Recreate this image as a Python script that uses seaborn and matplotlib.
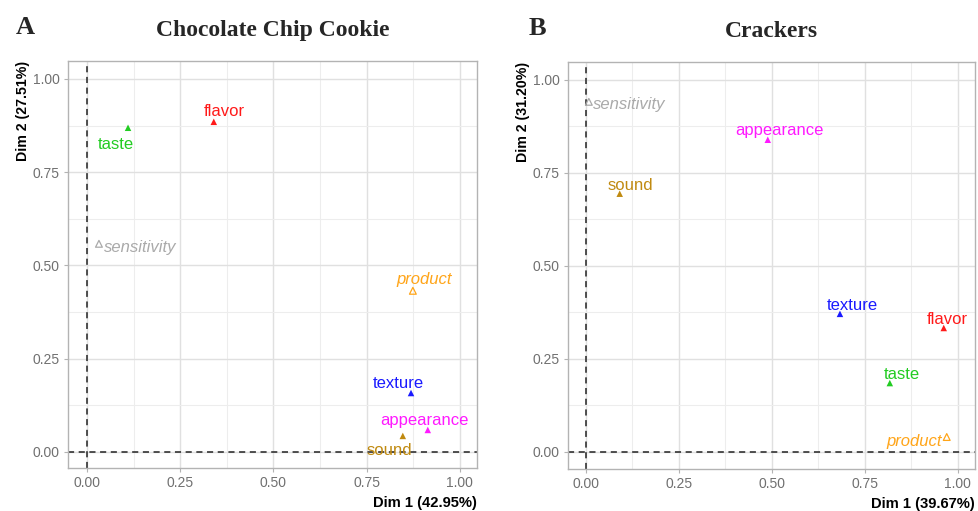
import matplotlib
matplotlib.use('Agg')
import matplotlib.pyplot as plt
from matplotlib.ticker import MultipleLocator
import seaborn as sns
import pandas as pd

sns.set_theme(style='white')
plt.rcParams['font.family'] = ['Liberation Sans', 'DejaVu Sans']

# variable names and colours
variables = ['taste', 'flavor', 'sensitivity', 'product', 'texture',
             'appearance', 'sound']
supplementary = ['sensitivity', 'product']
colors = {'taste': '#22CC22', 'flavor': '#FF1A1A', 'sensitivity': '#AAAAAA',
          'product': '#FFA519', 'texture': '#1A1AFF',
          'appearance': '#FF1AFF', 'sound': '#C08A10'}

# chocolate chip cookie coordinates
cookie_dim1 = [0.110, 0.340, 0.032, 0.874, 0.869, 0.914, 0.847]
cookie_dim2 = [0.869, 0.885, 0.558, 0.432, 0.158, 0.059, 0.043]

# crackers coordinates
cracker_dim1 = [0.817, 0.962, 0.008, 0.970, 0.683, 0.489, 0.091]
cracker_dim2 = [0.185, 0.333, 0.941, 0.040, 0.371, 0.839, 0.694]

cookie_axis = ['Dim 1 (42.95%)', 'Dim 2 (27.51%)']
cracker_axis = ['Dim 1 (39.67%)', 'Dim 2 (31.20%)']

# label offsets in pixels (dx, dy) and alignment
cookie_offsets = {'taste': (-12, -17, 'center'), 'flavor': (11, 10, 'center'),
                  'sensitivity': (5, -4, 'left'), 'product': (11, 11, 'center'),
                  'texture': (-13, 10, 'center'),
                  'appearance': (-3, 9, 'center'), 'sound': (-13, -15, 'center')}
cracker_offsets = {'taste': (12, 9, 'center'), 'flavor': (4, 9, 'center'),
                   'sensitivity': (4, -3, 'left'),
                   'product': (-5, -4, 'right'), 'texture': (12, 8, 'center'),
                   'appearance': (12, 9, 'center'), 'sound': (11, 8, 'center')}


def draw_panel(ax, dim1, dim2, axis_names, offsets, title, letter, letter_x,
               xlim, ylim):
    """ Draw one variable factor map panel.
    """
    df = pd.DataFrame({'var': variables, 'dim1': dim1, 'dim2': dim2})
    df['supp'] = df['var'].isin(supplementary)
    active = df[~df['supp']]
    supp = df[df['supp']]

    ax.set_xlim(*xlim)
    ax.set_ylim(*ylim)
    ax.xaxis.set_minor_locator(MultipleLocator(0.125))
    ax.yaxis.set_minor_locator(MultipleLocator(0.125))
    ax.grid(True, which='major', color='#E0E0E0', lw=1.0, zorder=0)
    ax.grid(True, which='minor', color='#EDEDED', lw=0.8, zorder=0)
    ax.set_axisbelow(True)

    ax.axhline(0, color='#222222', ls=(0, (4, 3)), lw=1.1, zorder=1)
    ax.axvline(0, color='#222222', ls=(0, (4, 3)), lw=1.1, zorder=1)

    sns.scatterplot(data=active, x='dim1', y='dim2', hue='var',
                    palette=colors, marker='^', s=22, linewidth=0,
                    legend=False, ax=ax, zorder=3)
    # supplementary variables drawn as open triangles
    ax.scatter(supp['dim1'], supp['dim2'], marker='^', s=24,
               facecolors='none',
               edgecolors=[colors[v] for v in supp['var']],
               linewidths=0.9, zorder=3)

    for _, row in df.iterrows():
        dx, dy, ha = offsets[row['var']]
        ax.annotate(row['var'], (row['dim1'], row['dim2']),
                    xytext=(dx * 0.72, dy * 0.72), textcoords='offset points',
                    ha=ha, va='center', fontsize=12,
                    color=colors[row['var']],
                    style='italic' if row['supp'] else 'normal', zorder=4)

    ax.set_xticks([0, 0.25, 0.5, 0.75, 1.0])
    ax.set_yticks([0, 0.25, 0.5, 0.75, 1.0])
    ax.set_xticklabels(['0.00', '0.25', '0.50', '0.75', '1.00'])
    ax.set_yticklabels(['0.00', '0.25', '0.50', '0.75', '1.00'])
    ax.tick_params(axis='both', which='major', length=3, width=0.8,
                   color='#B3B3B3', labelcolor='#707070', labelsize=10,
                   bottom=True, left=True, pad=3)
    ax.tick_params(axis='both', which='minor', length=0)
    for sp in ax.spines.values():
        sp.set_color('#B3B3B3')
        sp.set_linewidth(1.0)

    ax.set_xlabel('')
    ax.set_ylabel('')
    ax.text(1.0, -0.085, axis_names[0], transform=ax.transAxes, ha='right',
            va='center', fontsize=10.6, fontweight='bold', color='black')
    ax.text(-0.11, 1.0, axis_names[1], transform=ax.transAxes, ha='center',
            va='top', rotation=90, fontsize=10.2, fontweight='bold',
            color='black')
    ax.text(0.5, 1.076, title, transform=ax.transAxes, ha='center',
            va='center', fontsize=17, fontweight='bold',
            family='Liberation Serif')
    ax.text(letter_x, 1.083, letter, transform=ax.transAxes, ha='center',
            va='center', fontsize=19, fontweight='bold',
            family='Liberation Serif')


def main():
    fig = plt.figure(figsize=(9.79, 5.11), dpi=100)
    ax1 = fig.add_axes([68 / 979, 43 / 511, 409 / 979, 407 / 511])
    ax2 = fig.add_axes([568 / 979, 42 / 511, 407 / 979, 407 / 511])
    draw_panel(ax1, cookie_dim1, cookie_dim2, cookie_axis, cookie_offsets,
               'Chocolate Chip Cookie', 'A', -0.105,
               (-0.051, 1.046), (-0.043, 1.048))
    draw_panel(ax2, cracker_dim1, cracker_dim2, cracker_axis, cracker_offsets,
               'Crackers', 'B', -0.076,
               (-0.048, 1.046), (-0.046, 1.048))
    fig.savefig('out.png', dpi=100)


if __name__ == '__main__':
    main()
